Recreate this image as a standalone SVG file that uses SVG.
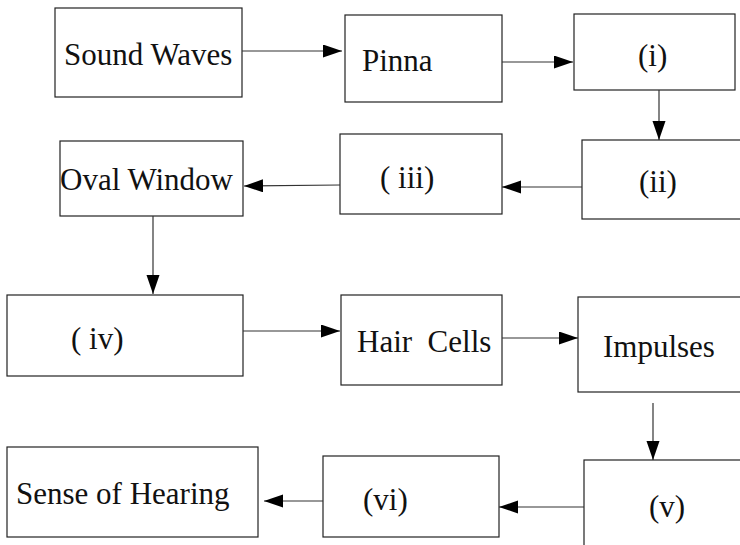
<svg xmlns="http://www.w3.org/2000/svg" width="740" height="545" viewBox="0 0 740 545" font-family="'Liberation Serif', 'Times New Roman', serif">
<style>
.box{fill:#fff;stroke:#222;stroke-width:1.2}
text{font-family:'Liberation Serif','Times New Roman',serif;font-size:31px;fill:#111}
.c{stroke:#333;stroke-width:1.2;fill:none;marker-end:url(#ah)}
</style>
<defs>
<marker id="ah" markerUnits="userSpaceOnUse" markerWidth="19" markerHeight="14" refX="19" refY="6.5" orient="auto">
<path d="M0,0 L19,6.5 L0,13 z" fill="#000"/>
</marker>
</defs>
<rect width="740" height="545" fill="#fff"/>
<g id="sound"><rect class="box" x="55" y="8" width="187" height="89"/><text x="64" y="65">Sound Waves</text></g>
<g id="pinna"><rect class="box" x="345" y="15" width="157" height="87"/><text x="362" y="71">Pinna</text></g>
<g id="n-i"><rect class="box" x="574" y="14" width="161" height="76"/><text x="638" y="66">(i)</text></g>
<g id="n-ii"><rect class="box" x="582" y="140" width="170" height="79"/><text x="639" y="192">(ii)</text></g>
<g id="n-iii"><rect class="box" x="340" y="134" width="162" height="80"/><text x="380" y="188" xml:space="preserve">( iii)</text></g>
<g id="oval"><rect class="box" x="60" y="141" width="183" height="75"/><text x="60" y="190">Oval Window</text></g>
<g id="n-iv"><rect class="box" x="7" y="295" width="236" height="81"/><text x="71" y="349" xml:space="preserve">( iv)</text></g>
<g id="hair"><rect class="box" x="341" y="295" width="161" height="90"/><text x="357" y="352" xml:space="preserve">Hair  Cells</text></g>
<g id="impulses"><rect class="box" x="578" y="297" width="175" height="95"/><text x="603" y="357">Impulses</text></g>
<g id="n-v"><rect class="box" x="584" y="460" width="170" height="100"/><text x="649" y="517">(v)</text></g>
<g id="n-vi"><rect class="box" x="323" y="456" width="176" height="81"/><text x="363" y="510">(vi)</text></g>
<g id="sense"><rect class="box" x="7" y="447" width="251" height="90"/><text x="16" y="504">Sense of Hearing</text></g>
<g id="connectors">
<line class="c" x1="242" y1="51" x2="342" y2="51"/>
<line class="c" x1="502" y1="62" x2="573" y2="62"/>
<line class="c" x1="659" y1="90" x2="659" y2="140"/>
<line class="c" x1="582" y1="187" x2="502" y2="187"/>
<line class="c" x1="340" y1="185" x2="244" y2="186"/>
<line class="c" x1="153" y1="216" x2="153" y2="294"/>
<line class="c" x1="243" y1="331" x2="340" y2="331"/>
<line class="c" x1="502" y1="338" x2="578" y2="338"/>
<line class="c" x1="653" y1="403" x2="653" y2="460"/>
<line class="c" x1="584" y1="507" x2="499" y2="507"/>
<line class="c" x1="323" y1="501" x2="264" y2="501"/>
</g>
</svg>
